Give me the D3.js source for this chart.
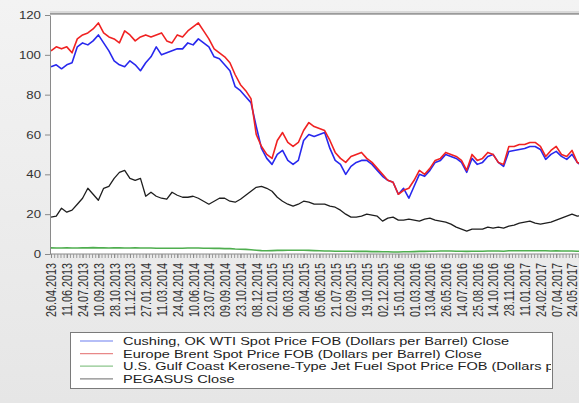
<!DOCTYPE html>
<meta charset="utf-8">
<head>
<script src="https://d3js.org/d3.v7.min.js"></script>
<style>
  body { margin: 0; background: #eeeeee; }
  svg { display: block; font-family: Arial, "Liberation Sans", sans-serif; }
</style>
</head>
<body>
<div id="chart"></div>
<script>
// x labels, one every 3 samples
const dateLabels = ["26.04.2013","11.06.2013","24.07.2013","10.09.2013","28.10.2013","11.12.2013",
  "27.01.2014","11.03.2014","24.04.2014","10.06.2014","23.07.2014","09.09.2014","23.10.2014","08.12.2014",
  "22.01.2015","06.03.2015","20.04.2015","05.06.2015","21.07.2015","02.09.2015","19.10.2015","02.12.2015",
  "15.01.2016","01.03.2016","13.04.2016","26.05.2016","14.07.2016","25.08.2016","14.10.2016","28.11.2016",
  "11.01.2017","24.02.2017","07.04.2017","24.05.2017"]

const yTicks = [0, 20, 40, 60, 80, 100, 120]

const wti = [94,95,93,95,96,104,106,105,107,110,
  106,102,97,95,94,97,95,92,96,99,
  104,100,101,102,103,103,106,105,108,106,
  104,99,98,95,92,84,82,79,76,64,
  53,48,45,50,52,47,45,47,57,60,
  59,60,61,53,47,45,40,44,46,47,
  47,45,42,39,37,36,30,33,28,34,
  40,39,42,46,47,50,49,48,46,41,
  48,45,46,49,50,46,44,51.5,52,52.5,
  53,54,54,52.5,47.5,50,51.5,49,47.5,50,
  46,44]

const brent = [102,104,103,104,101,108,110,111,113,116,
  111,109,108,106,112,110,107,109,110,109,
  110,111,107,106,110,109,112,114,116,112,
  108,103,101,99,96,90,85,82,78,60,
  54,50,48,57,61,56,54,56,62,66,
  64,63,62,57,51,48,46,49,50,51,
  48,46,43,40,37,36,30,32,33,37,
  42,40,43,47,48,51,50,49,47,42,
  50,47,48,51,50,46,45,54,54,55,
  55,56,56,54,49,52,54,50,49,52,
  46,45]

const jetFuel = [3.1,3.0,3.0,3.1,3.0,3.0,3.1,3.1,3.2,3.1,
  3.1,3.0,3.1,3.1,3.0,3.0,3.1,3.0,3.0,3.0,
  2.9,2.9,2.9,2.9,2.9,2.9,3.0,3.0,3.0,2.9,
  2.9,2.8,2.8,2.7,2.7,2.5,2.4,2.3,2.1,1.9,
  1.7,1.6,1.7,1.8,1.8,1.9,1.9,1.9,1.9,1.8,
  1.7,1.6,1.5,1.5,1.4,1.4,1.4,1.4,1.3,1.3,
  1.3,1.2,1.2,1.1,1.1,1.0,1.0,1.1,1.1,1.2,
  1.3,1.3,1.4,1.4,1.5,1.5,1.5,1.4,1.4,1.3,
  1.4,1.4,1.4,1.5,1.5,1.5,1.4,1.6,1.6,1.6,
  1.6,1.6,1.6,1.6,1.6,1.5,1.6,1.5,1.5,1.5,
  1.4,1.4]

const pegasus = [18.5,19,23,21,22,25,28,33,30,27,
  33,34,38,41,42,38,37,38,29,31,
  29,28,27.5,31,29.5,28.5,28.5,29,28,26.5,
  25,26.5,28,28,26.5,26,27.5,29.5,31.5,33.5,
  34,33,31.5,28.5,26.5,25,24,25,26.5,26,
  25,25,25,24,23.5,22,20,18.5,18.5,19,
  20,19.5,19,16.5,18,18.5,17,17,17.5,17,
  16.5,17.5,18,17,16.5,16,15,13.5,12.5,11.5,
  12.5,12.5,12.5,13.5,13,13.5,13,14,14.5,15.5,
  16,16.5,15.5,15,15.5,16,17,18,19,20,
  19,19.5]

const legendNames = ["Cushing, OK WTI Spot Price FOB (Dollars per Barrel) Close",
  "Europe Brent Spot Price FOB (Dollars per Barrel) Close",
  "U.S. Gulf Coast Kerosene-Type Jet Fuel Spot Price FOB (Dollars per Gallon) Close",
  "PEGASUS Close"]
const colors = ["#2828ee", "#f02222", "#4fae4f", "#1e1e1e"]
const legendColors = ["#6d7ef0", "#e88888", "#8cc68c", "#888888"]

const series = [wti, brent, jetFuel, pegasus]

const W = 579, H = 403
const stretch = 1.3   // the picture is wider than tall, text is stretched

const svg = d3.select("#chart").append("svg")
  .attr("width", W).attr("height", H)

const grad = svg.append("defs").append("linearGradient")
  .attr("id", "bg").attr("x1", 0).attr("y1", 0).attr("x2", 0).attr("y2", 1)
grad.append("stop").attr("offset", "0%").attr("stop-color", "#f3f3f3")
grad.append("stop").attr("offset", "100%").attr("stop-color", "#e6e6e6")

svg.append("rect").attr("width", W).attr("height", H).attr("fill", "url(#bg)")

const x = d3.scaleLinear().domain([0, 99]).range([51, 572])
const y = d3.scaleLinear().domain([0, 120]).range([254, 15])

// white plot area
svg.append("rect")
  .attr("x", 50).attr("y", 14).attr("width", W - 50).attr("height", 240)
  .attr("fill", "#fff")
svg.append("line").attr("x1", 50).attr("x2", W).attr("y1", 12).attr("y2", 12)
  .attr("stroke", "#d0d0d0").attr("stroke-width", 1.5)
svg.append("line").attr("x1", 50).attr("x2", W).attr("y1", 13.8).attr("y2", 13.8)
  .attr("stroke", "#9a9a9a").attr("stroke-width", 1.8)

svg.append("clipPath").attr("id", "plotclip").append("rect")
  .attr("x", 50).attr("y", 15).attr("width", W - 50).attr("height", 240)

const line = d3.line()
  .x((d, i) => x(i))
  .y(d => y(d))

const plot = svg.append("g").attr("clip-path", "url(#plotclip)")
series.forEach((s, k) => {
  plot.append("path")
    .datum(s)
    .attr("fill", "none")
    .attr("stroke", colors[k])
    .attr("stroke-width", k == 3 ? 1.3 : 1.6)
    .attr("stroke-linejoin", "round")
    .attr("d", line)
})

// y axis
const leftAxis = d3.axisLeft(y).tickValues(yTicks).tickSize(5).tickSizeOuter(0)
const gy = svg.append("g").attr("transform", "translate(50,0)").call(leftAxis)
gy.select(".domain").attr("stroke", "#8a8a8a")
gy.selectAll(".tick line").attr("stroke", "#8a8a8a")
gy.selectAll(".tick text")
  .attr("x", 0).attr("dy", ".35em")
  .attr("transform", `translate(-9,0) scale(${stretch},1)`)
  .attr("font-size", 10.2).attr("fill", "#333")

// x axis: minor ticks
const minorAxis = d3.axisBottom(x).tickValues(d3.range(0, 102, 0.6)).tickSize(4)
  .tickSizeOuter(0).tickFormat("")
const gm = svg.append("g").attr("transform", "translate(0,254)").call(minorAxis)
gm.select(".domain").attr("stroke", "#8a8a8a").attr("d", `M50,0H${W}`)
gm.selectAll(".tick line").attr("stroke", "#9a9a9a")

// x axis: labels
const bottomAxis = d3.axisBottom(x).tickValues(d3.range(0, dateLabels.length * 3, 3))
  .tickSize(4).tickSizeOuter(0).tickFormat(i => dateLabels[i / 3])
const gx = svg.append("g").attr("transform", "translate(0,254)").call(bottomAxis)
gx.select(".domain").remove()
gx.selectAll(".tick line").attr("stroke", "#8a8a8a")
gx.selectAll(".tick text")
  .attr("x", 0).attr("y", 0).attr("dy", ".35em")
  .attr("text-anchor", "end")
  .attr("transform", `translate(0,9) scale(${stretch},1) rotate(-90)`)
  .attr("font-size", 10.8).attr("fill", "#333")

// legend
const lg = svg.append("g")
lg.append("rect").attr("x", 70.5).attr("y", 332.5).attr("width", 482).attr("height", 56)
  .attr("fill", "#fff").attr("stroke", "#7a7a7a")
svg.append("clipPath").attr("id", "legclip").append("rect")
  .attr("x", 71).attr("y", 333).attr("width", 480).attr("height", 55)
const rows = lg.append("g").attr("clip-path", "url(#legclip)")
legendNames.forEach((name, k) => {
  const cy = 341 + k * 12.6
  rows.append("line").attr("x1", 80).attr("x2", 113).attr("y1", cy).attr("y2", cy)
    .attr("stroke", legendColors[k]).attr("stroke-width", 1.2)
  rows.append("text")
    .attr("transform", `translate(123,${cy}) scale(${stretch},1)`)
    .attr("dy", ".35em")
    .attr("font-size", 11.2).attr("fill", "#222")
    .text(name)
})
</script>
</body>
